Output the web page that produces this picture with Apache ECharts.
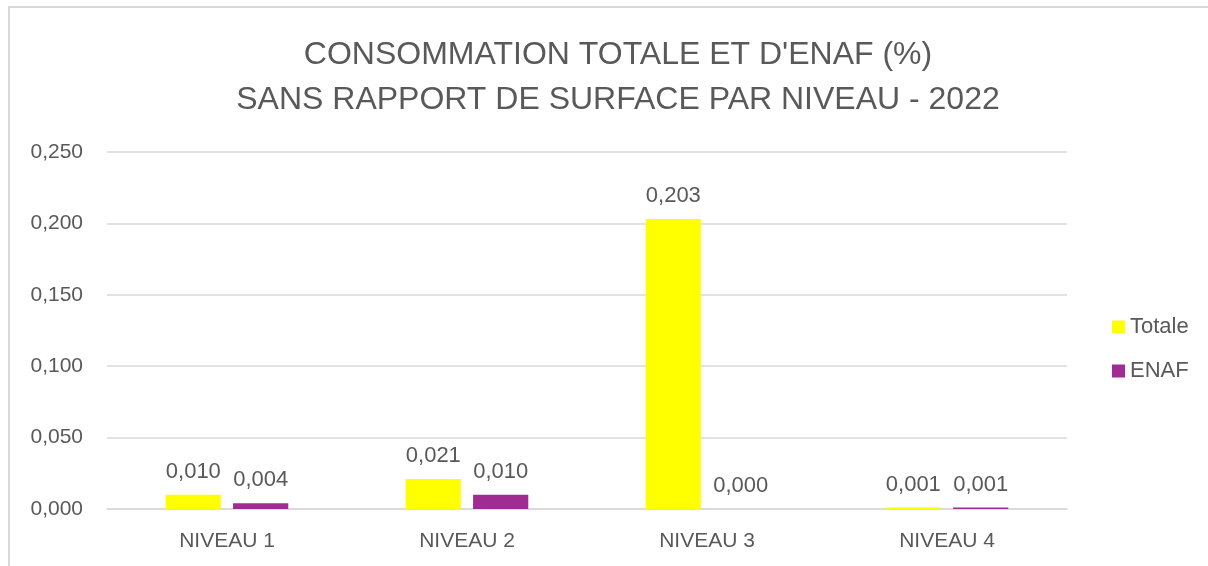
<!DOCTYPE html>
<html>
<head>
<meta charset="utf-8">
<script src="https://cdn.jsdelivr.net/npm/echarts@6/dist/echarts.min.js"></script>
<style>
  html, body { margin: 0; padding: 0; background: #fff; overflow: hidden; }
  #frame { position: absolute; left: 8px; top: 6px; width: 1300px; height: 700px; border: 2px solid #d9d9d9; }
  #main { position: absolute; left: 0; top: 0; width: 1208px; height: 566px; }
</style>
</head>
<body>
<div id="frame"></div>
<div id="main"></div>
<script>
// niveaux et valeurs (%)
var niveaux = ['NIVEAU 1', 'NIVEAU 2', 'NIVEAU 3', 'NIVEAU 4'];
var totale = [0.010, 0.021, 0.203, 0.001];
var enaf = [0.004, 0.010, 0.000, 0.001];
var ticks = { min: 0, max: 0.25, interval: 0.05 };

var txt = '#595959';
var fmt = function (v) { return v.toFixed(3).replace('.', ','); };

var chart = echarts.init(document.getElementById('main'));
chart.setOption({
    animation: false,
    textStyle: { fontFamily: 'Liberation Sans' },
    title: {
        text: "CONSOMMATION TOTALE ET D'ENAF (%)\nSANS RAPPORT DE SURFACE PAR NIVEAU - 2022",
        left: 613,
        textAlign: 'center',
        top: 28,
        textStyle: { color: txt, fontSize: 32, fontWeight: 'normal', lineHeight: 45 }
    },
    legend: {
        orient: 'vertical',
        left: 1107,
        top: 311,
        itemWidth: 13,
        itemHeight: 13,
        itemGap: 22,
        icon: 'rect',
        textStyle: { color: txt, fontSize: 22, padding: [0, 0, 0, 0] },
        data: ['Totale', 'ENAF']
    },
    grid: { left: 107, right: 141, top: 152, bottom: 57 },
    xAxis: {
        type: 'category',
        data: niveaux,
        axisTick: { show: false },
        axisLine: { lineStyle: { color: '#d9d9d9', width: 1.5 } },
        axisLabel: { color: txt, fontSize: 21, margin: 22 }
    },
    yAxis: {
        type: 'value',
        min: ticks.min,
        max: ticks.max,
        interval: ticks.interval,
        axisLine: { show: false },
        axisTick: { show: false },
        splitLine: { lineStyle: { color: '#d9d9d9', width: 1.5 } },
        axisLabel: { color: txt, fontSize: 21, margin: 24, formatter: fmt }
    },
    series: [
        {
            name: 'Totale',
            type: 'bar',
            data: totale,
            barWidth: '23%',
            barGap: '22%',
            itemStyle: { color: '#ffff00' },
            label: { show: true, position: 'top', distance: 12, color: txt, fontSize: 22, formatter: function (p) { return fmt(p.value); } }
        },
        {
            name: 'ENAF',
            type: 'bar',
            data: enaf,
            barWidth: '23%',
            itemStyle: { color: '#a02b93' },
            label: { show: true, position: 'top', distance: 12, color: txt, fontSize: 22, formatter: function (p) { return fmt(p.value); } }
        }
    ]
});
</script>
</body>
</html>
